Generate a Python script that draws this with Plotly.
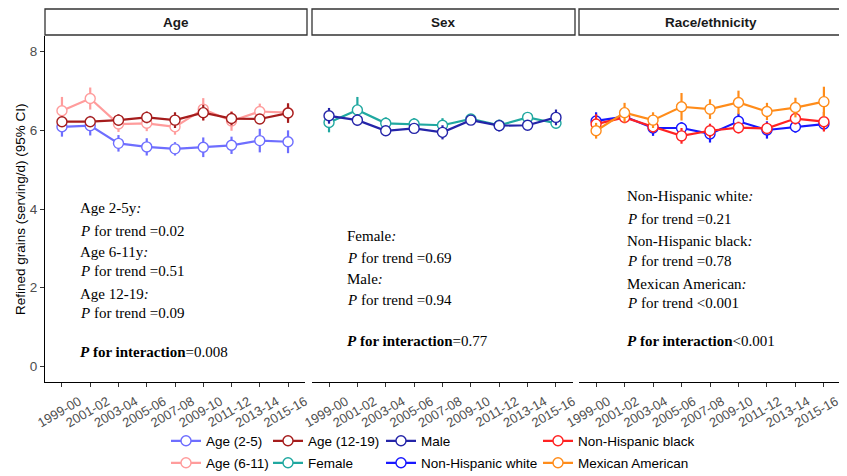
import plotly.graph_objects as go

# page body has an 8px margin; figure sized to fit the 847x476 window
OFF = 8
W, H = 847 - OFF, 476 - OFF

cycles = ["1999-00", "2001-02", "2003-04", "2005-06", "2007-08",
          "2009-10", "2011-12", "2013-14", "2015-16"]

# Age panel
age25 = [6.09, 6.12, 5.67, 5.58, 5.53, 5.57, 5.62, 5.74, 5.71]
age25_ci = [0.25, 0.25, 0.21, 0.22, 0.17, 0.25, 0.22, 0.30, 0.29]
age611 = [6.50, 6.81, 6.16, 6.18, 6.09, 6.54, 6.24, 6.48, 6.45]
age611_ci = [0.35, 0.28, 0.20, 0.20, 0.20, 0.28, 0.25, 0.20, 0.20]
age1219 = [6.22, 6.22, 6.26, 6.33, 6.26, 6.45, 6.30, 6.29, 6.44]
age1219_ci = [0.12, 0.12, 0.15, 0.15, 0.20, 0.20, 0.17, 0.12, 0.25]

# Sex panel
female = [6.20, 6.52, 6.18, 6.16, 6.13, 6.29, 6.13, 6.33, 6.18]
female_ci = [0.25, 0.33, 0.15, 0.15, 0.18, 0.10, 0.10, 0.12, 0.13]
male = [6.37, 6.26, 5.99, 6.05, 5.95, 6.26, 6.12, 6.13, 6.33]
male_ci = [0.20, 0.15, 0.12, 0.12, 0.18, 0.12, 0.15, 0.12, 0.20]

# Race/ethnicity panel
nhw = [6.24, 6.35, 6.06, 6.06, 5.91, 6.23, 6.01, 6.09, 6.16]
nhw_ci = [0.22, 0.12, 0.20, 0.15, 0.22, 0.20, 0.22, 0.15, 0.15]
nhb = [6.16, 6.33, 6.09, 5.86, 5.99, 6.07, 6.05, 6.30, 6.22]
nhb_ci = [0.25, 0.15, 0.15, 0.20, 0.18, 0.15, 0.15, 0.15, 0.25]
mex = [5.99, 6.45, 6.26, 6.60, 6.54, 6.71, 6.48, 6.58, 6.73]
mex_ci = [0.20, 0.25, 0.20, 0.35, 0.25, 0.30, 0.22, 0.25, 0.38]

panel_titles = ["Age", "Sex", "Race/ethnicity"]
y_ticks = [0, 2, 4, 6, 8]
y_title = "Refined grains (serving/d) (95% CI)"

series = [
    ("Age (2-5)", age25, age25_ci, "#6E6EFF", 1),
    ("Age (6-11)", age611, age611_ci, "#FF9C9C", 1),
    ("Age (12-19)", age1219, age1219_ci, "#A51C1C", 1),
    ("Female", female, female_ci, "#20A8A0", 2),
    ("Male", male, male_ci, "#2424A8", 2),
    ("Non-Hispanic white", nhw, nhw_ci, "#1818FF", 3),
    ("Non-Hispanic black", nhb, nhb_ci, "#FF2222", 3),
    ("Mexican American", mex, mex_ci, "#FF8C1A", 3),
]

def px_x(p):
    return (p - OFF) / W

def px_y(p):
    return 1 - (p - OFF) / H

# panel pixel extents (window pixels)
panels_px = [(45, 305), (312, 573), (579, 841)]
label_shift = [17, 17, 12]
plot_top, plot_bottom = 36, 382
strip_top, strip_bottom = 9, 35

fig = go.Figure()

# legend placement (col-major like ggplot, 2 rows)
legend_pos = [(166, 441), (166, 463), (268, 441), (268, 463),
              (381, 441), (381, 463), (538, 441), (538, 463)]

for i, (name, vals, ci, col, panel) in enumerate(series):
    lg = "legend" if i == 0 else f"legend{i+1}"
    fig.add_trace(go.Scatter(
        x=cycles, y=vals, name=name, mode="lines+markers",
        line=dict(color=col, width=2.2),
        marker=dict(symbol="circle", size=10, color="white",
                    line=dict(color=col, width=1.4)),
        error_y=dict(type="data", array=ci, arrayminus=ci, visible=True,
                     color=col, thickness=2.2, width=0),
        xaxis="x" if panel == 1 else f"x{panel}",
        yaxis="y" if panel == 1 else f"y{panel}",
        legend=lg, showlegend=True,
    ))

layout = dict(
    width=W, height=H,
    margin=dict(l=0, r=0, t=0, b=0, autoexpand=False),
    plot_bgcolor="white", paper_bgcolor="white",
    font=dict(family="Liberation Sans, Arial", size=13, color="black"),
)

for k, (x0, x1) in enumerate(panels_px):
    xn = "xaxis" if k == 0 else f"xaxis{k+1}"
    yn = "yaxis" if k == 0 else f"yaxis{k+1}"
    layout[xn] = dict(
        domain=[px_x(x0), px_x(x1)], anchor="y" if k == 0 else f"y{k+1}",
        type="category", categoryorder="array", categoryarray=cycles,
        range=[-0.6, 8.6], showline=True, linecolor="black", linewidth=1.2,
        ticks="outside", ticklen=4, tickcolor="#333333", tickwidth=1,
        tickangle=-30, showgrid=False, zeroline=False, automargin=False,
        ticklabelshift=label_shift[k], ticklabelstandoff=2,
        tickfont=dict(family="Liberation Sans, Arial", size=13, color="#4D4D4D"),
    )
    layout[yn] = dict(
        domain=[px_y(plot_bottom), px_y(plot_top)],
        anchor="x" if k == 0 else f"x{k+1}",
        range=[-0.4, 8.4], showgrid=False, zeroline=False, automargin=False,
        tickvals=y_ticks,
        showline=(k == 0), linecolor="black", linewidth=1.2,
        ticks="outside" if k == 0 else "", ticklen=4, tickcolor="#333333",
        showticklabels=(k == 0),
        tickfont=dict(family="Liberation Sans, Arial", size=13.5, color="#4D4D4D"),
    )

for i, (lx, ly) in enumerate(legend_pos):
    lg = "legend" if i == 0 else f"legend{i+1}"
    layout[lg] = dict(
        x=px_x(lx), y=px_y(ly), xanchor="left", yanchor="middle",
        orientation="v", bgcolor="rgba(0,0,0,0)",
        font=dict(family="Liberation Sans, Arial", size=13.5, color="black"),
        itemwidth=30,
    )

shapes = []
annotations = []
for k, (x0, x1) in enumerate(panels_px):
    shapes.append(dict(type="rect", xref="paper", yref="paper",
                       x0=px_x(x0), x1=px_x(x1 + 2),
                       y0=px_y(strip_bottom), y1=px_y(strip_top),
                       line=dict(color="#333333", width=1.3), fillcolor="white"))
    annotations.append(dict(
        text=f"<b>{panel_titles[k]}</b>", xref="paper", yref="paper",
        x=px_x((x0 + x1 + 2) / 2), y=px_y((strip_top + strip_bottom) / 2),
        showarrow=False, xanchor="center", yanchor="middle",
        font=dict(family="Liberation Sans, Arial", size=13.5, color="#1A1A1A")))

annotations.append(dict(
    text=y_title, xref="paper", yref="paper", x=px_x(20), y=px_y(209),
    textangle=-90, showarrow=False, xanchor="center", yanchor="middle",
    font=dict(family="Liberation Sans, Arial", size=13.5, color="black")))

serif = dict(family="Liberation Serif, Times New Roman", size=15, color="black")
text_blocks = [
    (78, [("Age 2-5y<i>:</i>", 208), ("<i>P</i> for trend =0.02", 231),
          ("Age 6-11y<i>:</i>", 252), ("<i>P</i> for trend =0.51", 271),
          ("Age 12-19<i>:</i>", 294), ("<i>P</i> for trend =0.09", 313),
          ("<b><i>P</i> for interaction</b>=0.008", 352)]),
    (345, [("Female<i>:</i>", 236), ("<i>P</i> for trend =0.69", 258),
           ("Male<i>:</i>", 279), ("<i>P</i> for trend =0.94", 300),
           ("<b><i>P</i> for interaction</b>=0.77", 341)]),
    (625, [("Non-Hispanic white<i>:</i>", 196), ("<i>P</i> for trend =0.21", 219),
           ("Non-Hispanic black<i>:</i>", 241), ("<i>P</i> for trend =0.78", 261),
           ("Mexican American<i>:</i>", 284), ("<i>P</i> for trend &lt;0.001", 303),
           ("<b><i>P</i> for interaction</b>&lt;0.001", 341)]),
]
for xpx, lines in text_blocks:
    for txt, ypx in lines:
        annotations.append(dict(
            text=txt, xref="paper", yref="paper", x=px_x(xpx), y=px_y(ypx),
            showarrow=False, xanchor="left", yanchor="middle", font=serif))

layout["shapes"] = shapes
layout["annotations"] = annotations
fig.update_layout(**layout)

fig.write_html("out.html")
